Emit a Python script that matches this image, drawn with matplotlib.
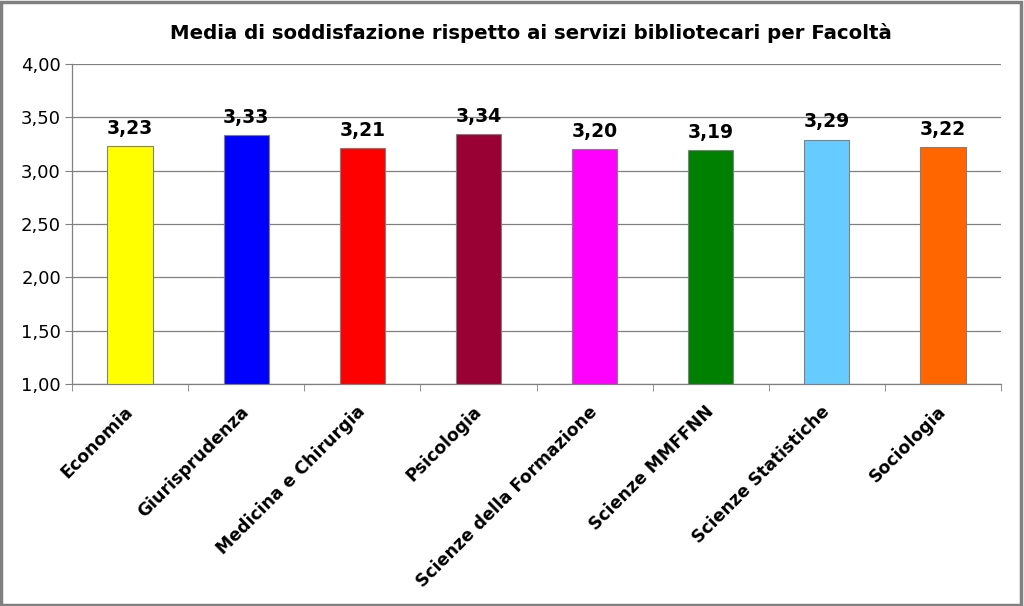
import matplotlib
matplotlib.use("Agg")
import matplotlib.pyplot as plt
from matplotlib.patches import Rectangle

categories = ["Economia", "Giurisprudenza", "Medicina e Chirurgia", "Psicologia",
              "Scienze della Formazione", "Scienze MMFFNN", "Scienze Statistiche", "Sociologia"]
values = [3.23, 3.33, 3.21, 3.34, 3.20, 3.19, 3.29, 3.22]
colors = ["#FFFF00", "#0000FF", "#FF0000", "#990033", "#FF00FF", "#008000", "#66CCFF", "#FF6600"]
yticks = [1.0, 1.5, 2.0, 2.5, 3.0, 3.5, 4.0]
title = "Media di soddisfazione rispetto ai servizi bibliotecari per Facoltà"

plt.rcParams['font.family'] = ['DejaVu Sans']

fig = plt.figure(figsize=(10.24, 6.06), dpi=100)
ax = fig.add_axes([72/1024, 1-384/606, 929/1024, 320/606])

x = list(range(len(categories)))
ax.bar(x, [v - 1.0 for v in values], bottom=1.0, width=0.39, color=colors,
       edgecolor="#808080", linewidth=0.8, zorder=3)
for xi, v in zip(x, values):
    ax.annotate(f"{v:.2f}".replace(".", ","), (xi, v), xytext=(0, 6),
                textcoords="offset points", ha="center", va="bottom",
                fontsize=13.5, fontweight="bold", color="black")

ax.set_xlim(-0.5, len(categories) - 0.5)
ax.set_ylim(1.0, 4.0)
ax.set_yticks(yticks)
ax.set_yticklabels([f"{t:.2f}".replace(".", ",") for t in yticks], fontsize=13)
ax.yaxis.grid(True, color="#808080", linewidth=0.9, zorder=0)
ax.set_axisbelow(True)

ax.set_xticks(x)
ax.set_xticklabels(categories, rotation=45, ha="right", va="center", rotation_mode="anchor",
                   fontsize=12.4, fontweight="bold")
ax.set_xticks([i - 0.5 for i in range(len(categories) + 1)], minor=True)
ax.tick_params(axis="x", which="major", length=0, pad=18)
ax.tick_params(axis="x", which="minor", length=5, color="#808080", direction="out")
ax.tick_params(axis="y", length=5, color="#808080", direction="out", pad=3)

for s in ["top", "right"]:
    ax.spines[s].set_visible(False)
for s in ["left", "bottom"]:
    ax.spines[s].set_color("#808080")
    ax.spines[s].set_linewidth(0.9)

fig.text(531/1024, 1-33/606, title, ha="center", va="center",
         fontsize=14.2, fontweight="bold")

fig.patches.append(Rectangle((0.001, 0.002), 0.996, 0.995, transform=fig.transFigure,
                             fill=False, edgecolor="#808080", linewidth=2.5))

fig.savefig("out.png", dpi=100, facecolor="white")
